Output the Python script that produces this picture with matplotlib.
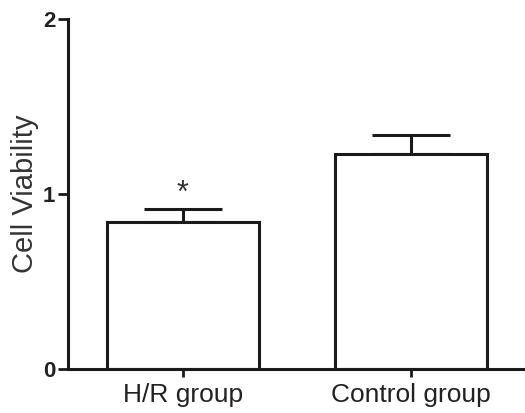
import matplotlib
matplotlib.use('Agg')
from matplotlib import pyplot as plt

groups = ["H/R group", "Control group"]
means = [0.84, 1.23]
errs = [0.075, 0.107]
stars = ["*", ""]

plt.rcParams['font.family'] = ['Liberation Sans', 'DejaVu Sans']

fig = plt.figure(figsize=(5.25, 4.13), dpi=100)
ax = fig.add_axes([0.1295, 0.1065, 0.8705, 0.847])
x = list(range(len(groups)))
ax.bar(x, means, width=0.667, color='white', edgecolor='#1a1a1a', linewidth=2.2, zorder=2)
ax.errorbar(x, means, yerr=[[0] * len(errs), errs], fmt='none', ecolor='#1a1a1a',
            elinewidth=2.2, capsize=28, capthick=2.2, zorder=1)
for xi, m, e, s in zip(x, means, errs, stars):
    if s:
        ax.text(xi, m + e + 0.0, s, ha='center', va='bottom', fontsize=22, color='#333333')

ax.set_xlim(-0.504, 1.5)
ax.set_ylim(0, 2)
ax.set_yticks([0, 1, 2])
ax.set_xticks(x)
ax.set_xticklabels(groups, fontsize=19, color='#222222')
ax.set_yticklabels(['0', '1', '2'], fontsize=16, fontweight='bold', color='#222222')
ax.tick_params(axis='y', width=2, length=7, pad=2, color='#1a1a1a')
ax.tick_params(axis='x', width=2, length=6, pad=4, color='#1a1a1a')
ax.set_ylabel("Cell Viability", fontsize=21, color='#333333', va='center')
ax.yaxis.set_label_coords(-0.094, 0.5)
for side in ['top', 'right']:
    ax.spines[side].set_visible(False)
for side in ['left', 'bottom']:
    ax.spines[side].set_linewidth(2.2)
    ax.spines[side].set_color('#1a1a1a')

fig.savefig("out.png", dpi=100)
plt.close()
